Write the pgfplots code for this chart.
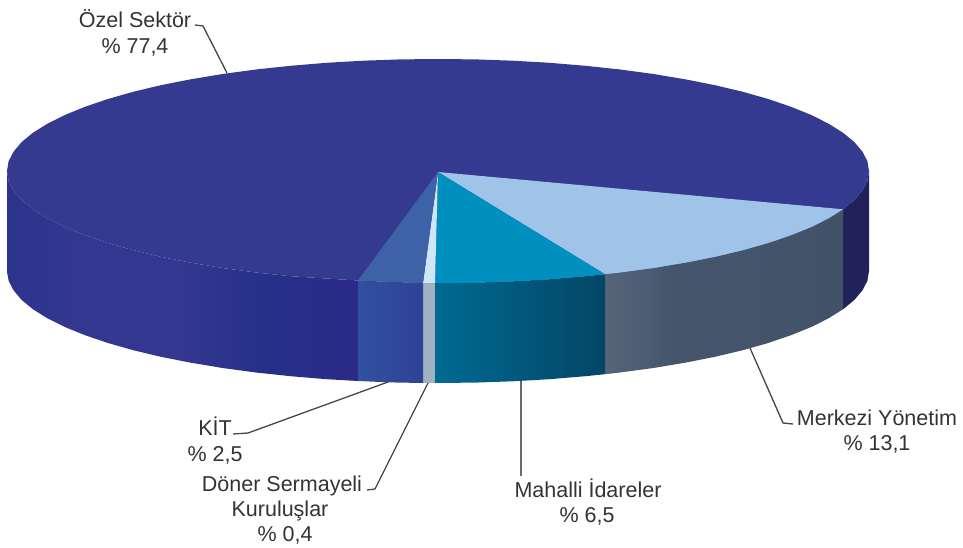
\documentclass[border=0pt]{standalone}
\usepackage{pgfplots}
\pgfplotsset{compat=1.18}
\usepackage{fontspec}
\setmainfont{Liberation Sans}
\definecolor{topmain}{HTML}{343A8F}
\definecolor{toplight}{HTML}{A0C4E8}
\definecolor{topteal}{HTML}{0090C0}
\definecolor{topkit}{HTML}{3D62A8}
\definecolor{topsliver}{HTML}{CDE6F8}
\definecolor{sidesliver}{HTML}{A0B2C2}
\definecolor{sidedark}{HTML}{20225A}
\definecolor{lead}{HTML}{4A4444}
\definecolor{txt}{HTML}{333333}
\definecolor{sA}{HTML}{2C348C}
\definecolor{sB}{HTML}{33378F}
\definecolor{sC}{HTML}{253089}
\definecolor{sD}{HTML}{2C2A88}
\definecolor{mA}{HTML}{566478}
\definecolor{mB}{HTML}{44556C}
\definecolor{mC}{HTML}{425369}
\definecolor{tA}{HTML}{006A92}
\definecolor{tB}{HTML}{034666}
\definecolor{kA}{HTML}{3250A0}
\definecolor{kB}{HTML}{2E4296}
\pgfdeclarehorizontalshading{mainside}{100bp}{color(0bp)=(sA);
  color(25bp)=(sA); color(35bp)=(sB); color(50bp)=(sB); color(62bp)=(sC); color(75bp)=(sD); color(100bp)=(sD)}
\pgfdeclarehorizontalshading{merkside}{100bp}{color(0bp)=(mA);
  color(25bp)=(mA); color(40bp)=(mB); color(75bp)=(mC); color(100bp)=(mC)}
\begin{document}
\begin{tikzpicture}
\begin{axis}[
  scale only axis, width=963pt, height=548pt,
  xmin=0, xmax=963, ymin=0, ymax=548, y dir=reverse,
  hide axis, clip=false,
  every axis plot/.append style={no markers, line join=round},
]
\path (axis cs:0,0) rectangle (axis cs:963,548);
% side: main slice (left)
\addplot[draw=none, shading=mainside] coordinates {
(358,280.5)(326.4,278.5)(290.6,276.2)(255.9,272.5)(222.5,268)(190.8,262.7)(160.9,256.8)(133.2,250.2)(107.9,243)(85,235.2)(64.8,227)(47.4,218.3)(33,209.3)(21.7,200)(13.6,190.4)(8.6,180.8)(7,171)
(7,271)(8.6,280.8)(13.6,290.4)(21.7,300)(33,309.3)(47.4,318.3)(64.8,327)(85,335.2)(107.9,343)(133.2,350.2)(160.9,356.8)(190.8,362.7)(222.5,368)(255.9,372.5)(290.6,376.2)(326.4,379.2)(358,381)};
% side: main slice (right)
\addplot[draw=none, fill=sidedark] coordinates {
(843,209.3)(854.3,200)(862.4,190.4)(867.4,180.8)(869,171)
(869,271)(867.4,280.8)(862.4,290.4)(854.3,300)(843,309.3)};
% side: Merkezi
\addplot[draw=none, shading=merkside] coordinates {
(605,274.2)(620.1,272.5)(653.5,268)(685.2,262.7)(715,256.8)(742.8,250.2)(768.2,243)(791,235.2)(811.3,227)(828.6,218.3)(843,209.3)
(843,309.3)(828.6,318.3)(811.3,327)(791,335.2)(768.2,343)(742.8,350.2)(715,356.8)(685.2,362.7)(653.5,368)(620.1,372.5)(605,374.2)};
% side: Mahalli
\addplot[draw=none, left color=tA, right color=tB] coordinates {
(435,283)(475.6,282.6)(512.8,281.3)(549.6,279.2)(585.4,276.2)(605,274.2)
(605,374.2)(585.4,376.2)(549.6,379.2)(512.8,381.3)(475.6,382.6)(435,383)};
% side: Doner
\addplot[draw=none, fill=sidesliver] coordinates {(423,283)(435,283)(435,383)(423,383)};
% side: KIT
\addplot[draw=none, left color=kA, right color=kB] coordinates {
(358,280.5)(390,281.8)(423,283)(423,383)(390,382.4)(358,381)};
% top: main slice, whole ellipse
\addplot[draw=none, fill=topmain] coordinates {
(869,171)(867.4,180.8)(862.4,190.4)(854.3,200)(843,209.3)(828.6,218.3)(811.3,227)(791,235.2)(768.2,243)(742.8,250.2)(715,256.8)(685.2,262.7)(653.5,268)(620.1,272.5)(605,274.2)(585.4,276.2)(549.6,279.2)(512.8,281.3)(475.6,282.6)(435,283)(423,283)(390,281.8)(358,280.5)(326.4,278.5)(290.6,276.2)(255.9,272.5)(222.5,268)(190.8,262.7)(160.9,256.8)(133.2,250.2)(107.9,243)(85,235.2)(64.8,227)(47.4,218.3)(33,209.3)(21.7,200)(13.6,190.4)(8.6,180.8)(7,171)(8.6,161.2)(13.6,151.6)(21.7,142)(33,132.7)(47.4,123.7)(64.8,115)(85,106.8)(107.9,99)(133.2,91.8)(160.9,85.2)(190.8,79.3)(222.5,74)(255.9,69.5)(290.6,65.8)(326.4,62.8)(363.2,60.7)(400.4,59.4)(438,59)(475.6,59.4)(512.8,60.7)(549.6,62.8)(585.4,65.8)(620.1,69.5)(653.5,74)(685.2,79.3)(715,85.2)(742.8,91.8)(768.2,99)(791,106.8)(811.3,115)(828.6,123.7)(843,132.7)(854.3,142)(862.4,151.6)(867.4,161.2)};
% top: Merkezi
\addplot[draw=none, fill=toplight] coordinates {
(438,172)(843,209.3)(828.6,218.3)(811.3,227)(791,235.2)(768.2,243)(742.8,250.2)(715,256.8)(685.2,262.7)(653.5,268)(620.1,272.5)(605,274.2)};
% top: Mahalli
\addplot[draw=none, fill=topteal] coordinates {
(438,172)(605,274.2)(585.4,276.2)(549.6,279.2)(512.8,281.3)(475.6,282.6)(435,283)};
% top: Doner
\addplot[draw=none, fill=topsliver] coordinates {(438,172)(435,283)(423,283)};
% top: KIT
\addplot[draw=none, fill=topkit] coordinates {(438,172)(423,283)(390,281.8)(358,280.5)};
% leaders
\addplot[lead, line width=1.3pt] coordinates {(195,25)(203,26)(227,73)};
\addplot[lead, line width=1.3pt] coordinates {(233,434)(248,433)(388,382)};
\addplot[lead, line width=1.3pt] coordinates {(367,490)(375,489)(428,383)};
\addplot[lead!80!white, line width=2.6pt] coordinates {(521,381)(521,476)};
\addplot[lead, line width=1.3pt] coordinates {(750,348)(783,423)(793,424)};
% labels
\begin{scope}[every node/.style={font=\fontsize{21.5}{24}\selectfont, text=txt, anchor=mid}]
\node at (axis cs:135,24.5) {Özel Sektör};
\node at (axis cs:135,50.5) {\% 77,4};
\node at (axis cs:215,432.5) {KİT};
\node at (axis cs:215,458.5) {\% 2,5};
\node at (axis cs:282,488.5) {Döner Sermayeli};
\node at (axis cs:280,513.5) {Kuruluşlar};
\node at (axis cs:285,538.5) {\% 0,4};
\node at (axis cs:588,494.5) {Mahalli İdareler};
\node at (axis cs:587,519.5) {\% 6,5};
\node at (axis cs:877,422.5) {Merkezi Yönetim};
\node at (axis cs:877,447.5) {\% 13,1};
\end{scope}
\end{axis}
\end{tikzpicture}
\end{document}
